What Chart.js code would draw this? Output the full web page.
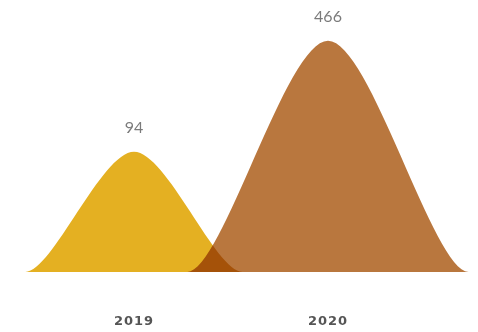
<!DOCTYPE html>
<html>
<head>
<meta charset="utf-8">
<script src="https://cdn.jsdelivr.net/npm/chart.js@4.4.0/dist/chart.umd.min.js"></script>
<style>
  html, body { margin: 0; padding: 0; background: #fff; }
  #wrap { width: 478px; height: 332px; position: relative; }
</style>
</head>
<body>
<div id="wrap"><canvas id="peaks"></canvas></div>
<script>
// data
const years = ["2019", "2020"];
const totals = [94, 466];
const peakColors = ["#E4B022", "#B9773E"];

/* ---------------------------------------------------
    peak shapes plugin (draws each bar as a smooth hill)
----------------------------------------------------- */
const peakPlugin = {
  id: "peaks",
  beforeDraw(chart) {
    chart.ctx.letterSpacing = "1px";
  },
  beforeDatasetDraw(chart, args, opts) {
    const meta = args.meta;
    const ctx = chart.ctx;
    const xScale = chart.scales.x;
    const slot = xScale.width / xScale.ticks.length;
    ctx.save();
    ctx.letterSpacing = "0px";
    ctx.globalCompositeOperation = "multiply";
    meta.data.forEach((bar, i) => {
      const hw = slot * opts.spread[i];
      const cx = bar.x, top = bar.y, base = bar.base;
      const left = cx - hw, right = cx + hw;
      const a = opts.footCurve, b = opts.topCurve;
      ctx.beginPath();
      ctx.moveTo(left, base);
      ctx.bezierCurveTo(left + hw * a, base, cx - hw * b, top, cx, top);
      ctx.bezierCurveTo(cx + hw * b, top, right - hw * a, base, right, base);
      ctx.closePath();
      ctx.fillStyle = bar.options.backgroundColor;
      ctx.fill();
    });
    ctx.restore();

    // value labels above the peaks
    ctx.save();
    ctx.letterSpacing = "0px";
    ctx.fillStyle = opts.labelColor;
    ctx.font = opts.labelFont;
    ctx.textAlign = "center";
    ctx.textBaseline = "alphabetic";
    meta.data.forEach((bar, i) => {
      ctx.fillText(String(chart.data.datasets[args.index].data[i]), bar.x, bar.y - opts.labelGap);
    });
    ctx.restore();
    return false;
  },
  afterDraw(chart) {
    chart.ctx.letterSpacing = "0px";
  },
};

new Chart(document.getElementById("peaks"), {
  type: "bar",
  data: {
    labels: years,
    datasets: [
      {
        data: totals,
        backgroundColor: peakColors,
        borderWidth: 0,
      },
    ],
  },
  options: {
    responsive: true,
    maintainAspectRatio: false,
    devicePixelRatio: 1,
    animation: false,
    layout: { padding: { left: 37, right: 53, top: 0, bottom: 4 } },
    plugins: {
      legend: { display: false },
      tooltip: { enabled: false },
      peaks: {
        spread: [0.56, 0.725],
        footCurve: 0.25,
        topCurve: 0.3,
        labelColor: "#7b7b7b",
        labelFont: "16px Lato",
        labelGap: 19,
      },
    },
    scales: {
      x: {
        grid: { display: false, drawTicks: false },
        border: { display: false },
        afterFit(scale) {
          scale.height = 56;
        },
        ticks: {
          color: "#555555",
          font: { family: "'DejaVu Sans'", size: 13, weight: "bold" },
          padding: 42,
        },
      },
      y: {
        type: "logarithmic",
        display: false,
        min: 16.6,
        max: 840,
      },
    },
  },
  plugins: [peakPlugin],
});
</script>
</body>
</html>
